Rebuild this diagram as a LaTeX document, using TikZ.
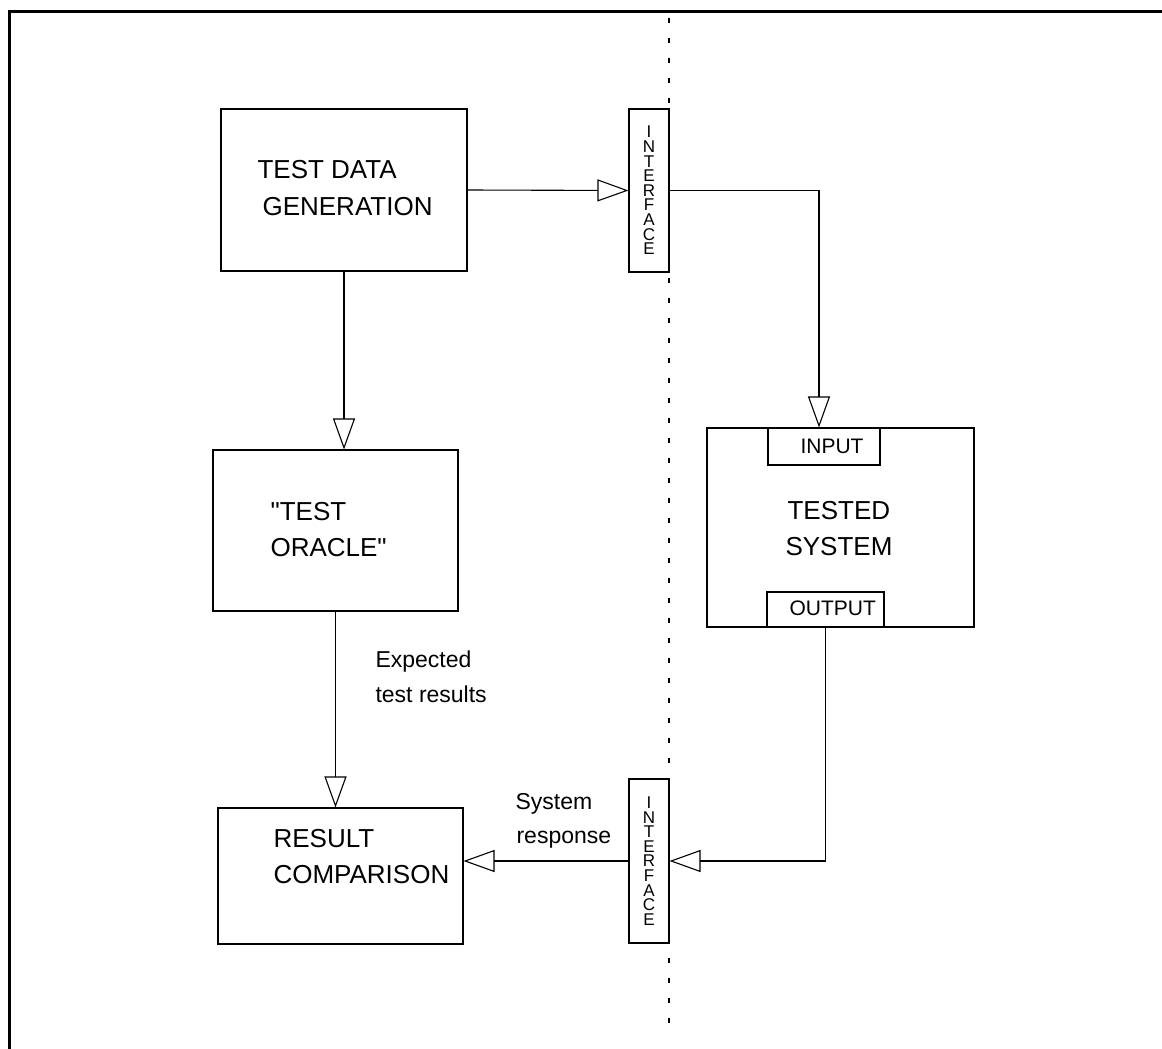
\documentclass[tikz,border=0pt]{standalone}
\usepackage{fontspec}
\setmainfont{Liberation Sans}[Ligatures=TeXOff]
\usetikzlibrary{arrows.meta,calc}
\begin{document}
\begin{tikzpicture}[x=1pt,y=-1pt,
  every path/.style={line width=1.1pt},
  boxs/.style={draw, line width=1.1pt, inner sep=0, minimum width=#1},
  lbl/.style={inner sep=0, anchor=base west, font=\fontsize{26}{30}\selectfont},
  small/.style={inner sep=0, anchor=base west, font=\fontsize{21}{25}\selectfont},
  note/.style={inner sep=0, anchor=base west, font=\fontsize{23}{27}\selectfont},
  vert/.style={inner sep=0, align=center, font=\fontsize{17}{14.6}\selectfont},
  arr/.style={-{Triangle[open,length=31pt,width=22pt]}}]
\useasboundingbox (0,0) rectangle (1162,1049);
% frame
\draw[line width=3pt] (9,1060) -- (9,12) -- (1170,12);
% dotted divider
\coordinate (dtop) at (669,18);
\coordinate (dbot) at (669,1035);
\draw[line width=1pt, dash pattern=on 5pt off 15pt] (dtop) -- (dbot);
% boxes
\node[boxs=246pt, minimum height=162pt] (tdg) at (344,190) {};
\node[boxs=245pt, minimum height=161pt] (oracle) at (335.5,530.5) {};
\node[boxs=245pt, minimum height=136pt] (result) at (340.5,876) {};
\node[boxs=40pt, minimum height=163pt, fill=white] (if1) at (649,190.5) {};
\node[boxs=40pt, minimum height=164pt, fill=white] (if2) at (649,861) {};
\node[boxs=267pt, minimum height=199pt] (sys) at (840.5,527.5) {};
\node[boxs=112pt, minimum height=37pt] (input) at (824,446.5) {};
\node[boxs=117pt, minimum height=35pt] (output) at (825.5,609.5) {};
% redraw dotted line over interface boxes' right edges
\draw[line width=1.3pt, dash pattern=on 5pt off 15pt] (dtop) -- (dbot);
% texts
\node[lbl] (t1) at (257,178) {TEST DATA};
\node[lbl] (t2) at (262,215) {GENERATION};
\node[lbl] (o1) at (270,520) {"TEST};
\node[lbl] (o2) at (270,556) {ORACLE"};
\node[lbl] (r1) at (273,847) {RESULT};
\node[lbl] (r2) at (273,883) {COMPARISON};
\node[lbl] (s1) at (787,519) {TESTED};
\node[lbl] (s2) at (785,555) {SYSTEM};
\node[small] (in) at (800,453) {INPUT};
\node[small] (out) at (789,615) {OUTPUT};
\node[note] (e1) at (375,667) {Expected};
\node[note] (e2) at (375,702) {test results};
\node[note] (sr1) at (515,809) {System};
\node[note] (sr2) at (516,843) {response};
\node[vert] (iftxt1) at (if1.center) {I\\N\\T\\E\\R\\F\\A\\C\\E};
\node[vert] (iftxt2) at (if2.center) {I\\N\\T\\E\\R\\F\\A\\C\\E};
% connectors
\draw[arr] (tdg.east) -- (if1.west);
\draw[arr] (if1.east) -| ($(input.north)+(-5,0)$);
\draw[arr] (tdg.south) -- (tdg.south |- oracle.north);
\draw[arr] (oracle.south) -- (oracle.south |- result.north);
\draw[arr] (output.south) |- (if2.east);
\draw[arr] (if2.west) -- (if2.west -| result.east);
\end{tikzpicture}
\end{document}
